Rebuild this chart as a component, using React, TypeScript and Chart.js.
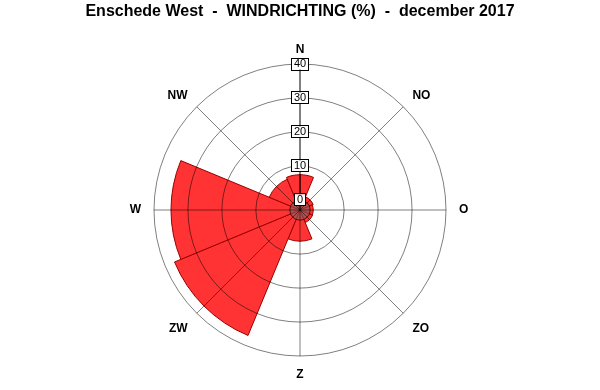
import React, { useEffect, useRef } from 'react';
import { Chart, registerables } from 'chart.js';

Chart.register(...registerables);

const TITLE = 'Enschede West  -  WINDRICHTING (%)  -  december 2017';
const directions = ['N', 'NO', 'O', 'ZO', 'Z', 'ZW', 'W', 'NW'];
const percentages = [7.4, 1.2, 0.9, 1.0, 6.2, 37.0, 35.0, 6.8];
const tickStep = 10;
const scaleMax = 40;
const scaleMin = -3; // leaves room for the calm circle around the centre

const FONT = '"Liberation Sans", Arial, Helvetica, sans-serif';

export default function App() {
  const ref = useRef<HTMLCanvasElement>(null);

  useEffect(() => {
    if (!ref.current) return;
    const n = directions.length;
    const sector = 360 / n;
    // N is split in two halves so that every sector is centred on its direction
    const values = [percentages[0], ...percentages.slice(1), percentages[0]];
    const angles = [sector / 2, ...percentages.slice(1).map(() => sector), sector / 2];
    const dataLabels = [directions[0], ...directions.slice(1), directions[0]];

    const calmPlugin = {
      id: 'calmAndBoxes',
      afterDatasetsDraw(chart: any) {
        const s = chart.scales.r;
        const ctx = chart.ctx;
        const rad = s.getDistanceFromCenterForValue(0);
        ctx.save();
        ctx.beginPath();
        ctx.arc(s.xCenter, s.yCenter, rad, 0, Math.PI * 2);
        ctx.fillStyle = 'rgba(120,100,100,0.55)';
        ctx.fill();
        ctx.restore();
      },
      afterDraw(chart: any) {
        const s = chart.scales.r;
        const ctx = chart.ctx;
        ctx.save();
        ctx.font = `11px ${FONT}`;
        ctx.strokeStyle = '#000';
        ctx.lineWidth = 1;
        s.ticks.forEach((t: any) => {
          const d = s.getDistanceFromCenterForValue(t.value);
          const w = Math.round(ctx.measureText(String(t.label)).width + 4);
          const h = 11;
          const x = Math.round(s.xCenter - w / 2) - 0.5;
          const y = Math.round(s.yCenter - d - h / 2) - 0.5;
          ctx.strokeRect(x, y, w + 1, h + 1);
        });
        ctx.restore();
      },
    };

    const topLabel = (i: number) => i === 0 || i === 1 || i === directions.length - 1;

    const chart = new Chart(ref.current, {
      type: 'polarArea',
      data: {
        labels: dataLabels,
        datasets: [
          {
            data: values,
            backgroundColor: '#FF3333',
            borderColor: '#990000',
            borderWidth: 1,
            angle: (c: any) => angles[c.dataIndex],
          } as any,
        ],
      },
      options: {
        responsive: false,
        animation: false,
        events: [],
        layout: { padding: { top: 0, bottom: 4, left: 0, right: 0 } },
        plugins: {
          legend: { display: false },
          tooltip: { enabled: false },
          title: {
            display: true,
            text: TITLE,
            color: '#000',
            font: { family: FONT, size: 16, weight: 'bold' },
            padding: { top: 2, bottom: 22.8 },
          },
        },
        scales: {
          r: {
            labels: directions,
            min: scaleMin,
            max: scaleMax,
            startAngle: 0,
            ticks: {
              stepSize: tickStep,
              includeBounds: false,
              z: 1,
              color: '#000',
              font: { family: FONT, size: 11 },
              showLabelBackdrop: true,
              backdropColor: '#fff',
              backdropPadding: { x: 2, y: 0 },
            },
            grid: {
              z: 1,
              circular: true,
              color: (c: any) => (c.tick && c.tick.value === 0 ? 'rgba(60,0,0,0.8)' : 'rgba(0,0,0,0.5)'),
              lineWidth: 1,
            },
            angleLines: {
              display: true,
              color: (c: any) => (c.index === 0 ? '#000' : 'rgba(0,0,0,0.5)'),
              lineWidth: 1,
            },
            pointLabels: {
              display: true,
              padding: 7.5,
              color: '#000',
              font: (c: any) => ({
                family: FONT,
                size: 12,
                weight: 'bold',
                lineHeight: topLabel(c.index) ? 0.3 : 1.0,
              }),
            },
          } as any,
        },
      },
      plugins: [calmPlugin],
    } as any);

    return () => chart.destroy();
  }, []);

  return (
    <div style={{ position: 'fixed', left: 0, top: 0, width: 600, height: 390, background: '#fff' }}>
      <canvas ref={ref} width={600} height={390} />
    </div>
  );
}
